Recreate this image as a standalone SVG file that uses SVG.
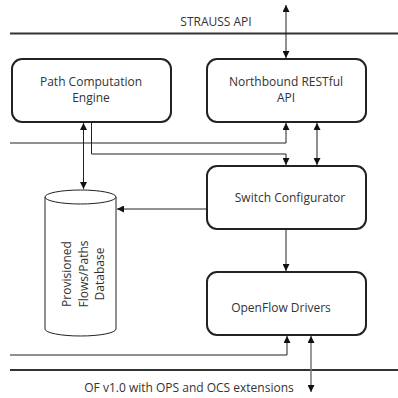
<svg xmlns="http://www.w3.org/2000/svg" width="398" height="398" viewBox="0 0 398 398">
<style>
.box{fill:#fff;stroke:#222;stroke-width:2}
.t{font-family:"Open Sans",Lato,sans-serif;font-size:12px;fill:#333;text-anchor:middle}
.ln{fill:none;stroke:#222;stroke-width:1}
.bar{fill:none;stroke:#333;stroke-width:2}
</style>
<defs>
<marker id="a" viewBox="0 0 10 10" refX="10" refY="5" markerWidth="7" markerHeight="7" orient="auto-start-reverse" markerUnits="userSpaceOnUse"><path d="M0,0 L10,5 L0,10 z" fill="#111"/></marker>
</defs>
<rect width="398" height="398" fill="#fff"/>
<g id="strauss-bar">
<line class="bar" x1="10" y1="33.5" x2="398" y2="33.5"/>
<text class="t" x="216" y="26">STRAUSS API</text>
</g>
<g id="of-bar">
<line class="bar" x1="10" y1="370" x2="398" y2="370"/>
<text class="t" x="189" y="392">OF v1.0 with OPS and OCS extensions</text>
</g>
<g id="pce">
<rect class="box" x="12" y="59" width="159" height="63" rx="10"/>
<text class="t" x="91" y="86">Path Computation</text>
<text class="t" x="91" y="102">Engine</text>
</g>
<g id="nb">
<rect class="box" x="207" y="59" width="159" height="63" rx="10"/>
<text class="t" x="286" y="86">Northbound RESTful</text>
<text class="t" x="286" y="102">API</text>
</g>
<g id="sc">
<rect class="box" x="207" y="166" width="159" height="63" rx="10"/>
<text class="t" x="290" y="202">Switch Configurator</text>
</g>
<g id="ofd">
<rect class="box" x="207" y="272" width="159" height="63" rx="10"/>
<text class="t" x="281" y="312">OpenFlow Drivers</text>
</g>
<g id="db">
<path d="M45,197 L45,329 A35.5,7 0 0 0 116,329 L116,197" fill="#fff" stroke="#222" stroke-width="1"/>
<ellipse cx="80.5" cy="197" rx="35.5" ry="7" fill="#fff" stroke="#222" stroke-width="1"/>
<g class="t" transform="rotate(-90)">
<text x="-274" y="71">Provisioned</text>
<text x="-274" y="87.5">Flows/Paths</text>
<text x="-274" y="104">Database</text>
</g>
</g>
<g id="connectors">
<line class="ln" x1="286" y1="5" x2="286" y2="58" marker-start="url(#a)" marker-end="url(#a)"/>
<line class="ln" x1="83.5" y1="123" x2="83.5" y2="189" marker-start="url(#a)" marker-end="url(#a)"/>
<polyline class="ln" points="91.5,122 91.5,154 286,154 286,165" marker-end="url(#a)" stroke="#555"/>
<polyline class="ln" points="10,143 286,143 286,123" marker-end="url(#a)"/>
<line class="ln" x1="317" y1="123" x2="317" y2="165" marker-start="url(#a)" marker-end="url(#a)"/>
<line class="ln" x1="207" y1="209" x2="117" y2="209" marker-end="url(#a)"/>
<line class="ln" x1="286" y1="229" x2="286" y2="271" marker-end="url(#a)"/>
<polyline class="ln" points="10,355 287,355 287,336" marker-end="url(#a)"/>
<line x1="311" y1="336" x2="311" y2="392" stroke="#777" stroke-width="1.5" marker-start="url(#a)" marker-end="url(#a)"/>
</g>
</svg>
